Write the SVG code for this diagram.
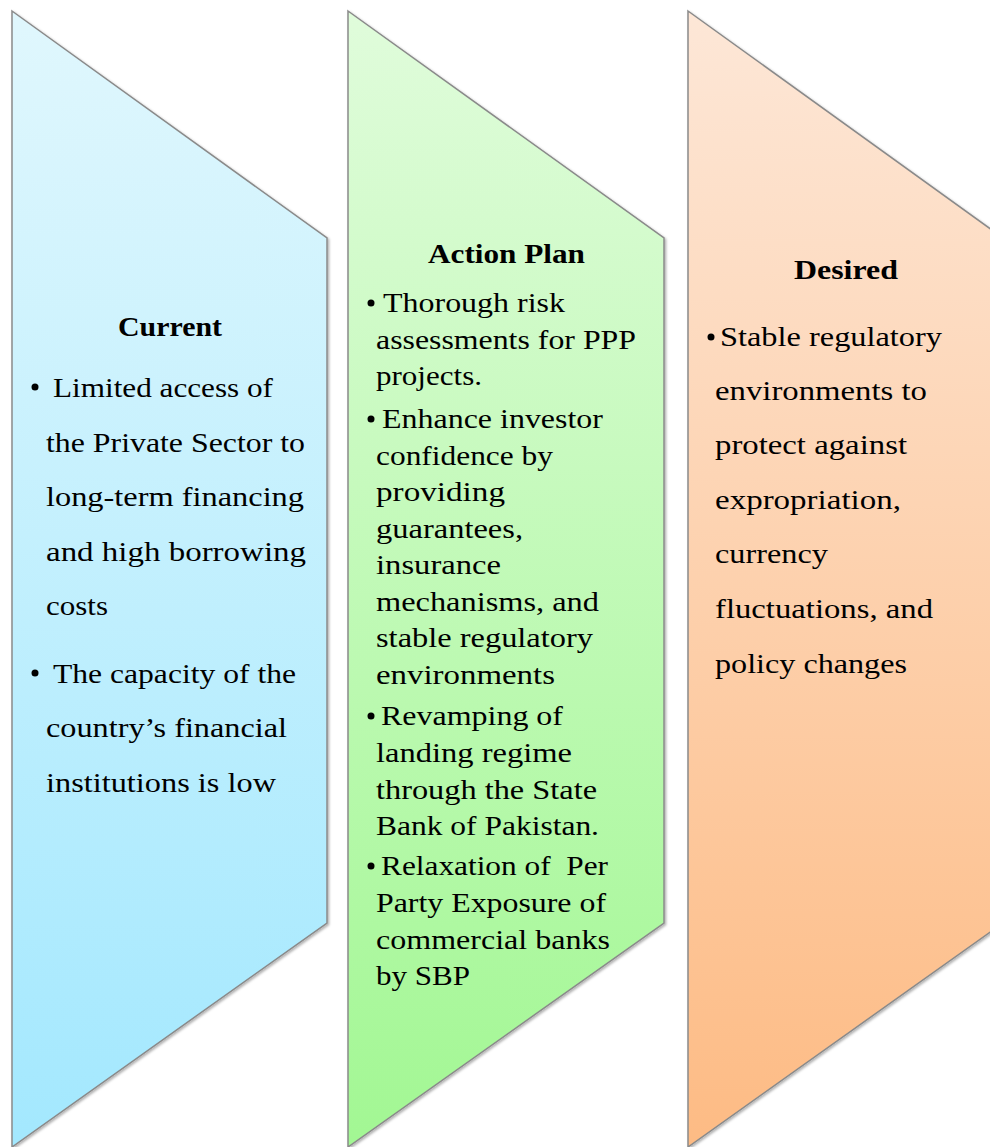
<svg xmlns="http://www.w3.org/2000/svg" width="990" height="1147" viewBox="0 0 990 1147">
<style>
.shape{stroke:#8a8a8a;stroke-width:1.5;filter:url(#sh)}
text{font-family:"Liberation Serif","DejaVu Serif",serif;fill:#000}
.t{font-size:27px;font-weight:bold}
.b{font-size:27px}
</style>
<defs>
<linearGradient id="g1" x1="0" y1="0" x2="0" y2="1"><stop offset="0" stop-color="#e0f7fd"/><stop offset="1" stop-color="#a3e8fe"/></linearGradient>
<linearGradient id="g2" x1="0" y1="0" x2="0" y2="1"><stop offset="0" stop-color="#e0fcdb"/><stop offset="1" stop-color="#a2f793"/></linearGradient>
<linearGradient id="g3" x1="0" y1="0" x2="0" y2="1"><stop offset="0" stop-color="#fde7d7"/><stop offset="1" stop-color="#fdbb84"/></linearGradient>
<filter id="sh" x="-5%" y="-5%" width="110%" height="110%"><feDropShadow dx="1.5" dy="1.5" stdDeviation="1.2" flood-color="#000" flood-opacity="0.3"/></filter>
</defs>
<g id="current">
<polygon class="shape" fill="url(#g1)" points="12,11 327,238 327,923 12,1147"/>
<text class="t" x="118" y="336" textLength="104" lengthAdjust="spacingAndGlyphs">Current</text>
<circle cx="35" cy="387" r="3.5"/>
<text class="b" x="53" y="397" textLength="220" lengthAdjust="spacingAndGlyphs">Limited access of</text>
<text class="b" x="46" y="452" textLength="259" lengthAdjust="spacingAndGlyphs">the Private Sector to</text>
<text class="b" x="46" y="506" textLength="258" lengthAdjust="spacingAndGlyphs">long-term financing</text>
<text class="b" x="46" y="561" textLength="260" lengthAdjust="spacingAndGlyphs">and high borrowing</text>
<text class="b" x="46" y="615" textLength="62" lengthAdjust="spacingAndGlyphs">costs</text>
<circle cx="35" cy="673" r="3.5"/>
<text class="b" x="53" y="683" textLength="243" lengthAdjust="spacingAndGlyphs">The capacity of the</text>
<text class="b" x="46" y="737" textLength="241" lengthAdjust="spacingAndGlyphs">country’s financial</text>
<text class="b" x="46" y="792" textLength="230" lengthAdjust="spacingAndGlyphs">institutions is low</text>
</g>
<g id="action-plan">
<polygon class="shape" fill="url(#g2)" points="348,11 664,238 664,923 348,1147"/>
<text class="t" x="428" y="263" textLength="157" lengthAdjust="spacingAndGlyphs">Action Plan</text>
<circle cx="371" cy="303" r="3.5"/>
<text class="b" x="383" y="312" textLength="182" lengthAdjust="spacingAndGlyphs">Thorough risk</text>
<text class="b" x="376" y="348.5" textLength="260" lengthAdjust="spacingAndGlyphs">assessments for PPP</text>
<text class="b" x="376" y="385" textLength="106" lengthAdjust="spacingAndGlyphs">projects.</text>
<circle cx="371" cy="419" r="3.5"/>
<text class="b" x="382" y="428" textLength="221" lengthAdjust="spacingAndGlyphs">Enhance investor</text>
<text class="b" x="376" y="464.5" textLength="177" lengthAdjust="spacingAndGlyphs">confidence by</text>
<text class="b" x="376" y="501" textLength="129" lengthAdjust="spacingAndGlyphs">providing</text>
<text class="b" x="376" y="537.5" textLength="147" lengthAdjust="spacingAndGlyphs">guarantees,</text>
<text class="b" x="376" y="574" textLength="125" lengthAdjust="spacingAndGlyphs">insurance</text>
<text class="b" x="376" y="610.5" textLength="223" lengthAdjust="spacingAndGlyphs">mechanisms, and</text>
<text class="b" x="376" y="647" textLength="217" lengthAdjust="spacingAndGlyphs">stable regulatory</text>
<text class="b" x="376" y="683.5" textLength="179" lengthAdjust="spacingAndGlyphs">environments</text>
<circle cx="371" cy="716" r="3.5"/>
<text class="b" x="381" y="725" textLength="182" lengthAdjust="spacingAndGlyphs">Revamping of</text>
<text class="b" x="376" y="762" textLength="196" lengthAdjust="spacingAndGlyphs">landing regime</text>
<text class="b" x="376" y="799" textLength="221" lengthAdjust="spacingAndGlyphs">through the State</text>
<text class="b" x="376" y="835" textLength="223" lengthAdjust="spacingAndGlyphs">Bank of Pakistan.</text>
<circle cx="371" cy="866" r="3.5"/>
<text class="b" x="381" y="875" textLength="227" lengthAdjust="spacingAndGlyphs" xml:space="preserve">Relaxation of  Per</text>
<text class="b" x="376" y="912" textLength="230" lengthAdjust="spacingAndGlyphs">Party Exposure of</text>
<text class="b" x="376" y="949" textLength="234" lengthAdjust="spacingAndGlyphs">commercial banks</text>
<text class="b" x="376" y="985" textLength="94" lengthAdjust="spacingAndGlyphs">by SBP</text>
</g>
<g id="desired">
<polygon class="shape" fill="url(#g3)" points="688,11 1003,238 1003,923 688,1147"/>
<text class="t" x="794" y="279" textLength="104" lengthAdjust="spacingAndGlyphs">Desired</text>
<circle cx="711" cy="337" r="3.5"/>
<text class="b" x="720" y="346" textLength="222" lengthAdjust="spacingAndGlyphs">Stable regulatory</text>
<text class="b" x="715" y="400" textLength="212" lengthAdjust="spacingAndGlyphs">environments to</text>
<text class="b" x="715" y="454" textLength="192" lengthAdjust="spacingAndGlyphs">protect against</text>
<text class="b" x="715" y="509" textLength="186" lengthAdjust="spacingAndGlyphs">expropriation,</text>
<text class="b" x="715" y="563" textLength="113" lengthAdjust="spacingAndGlyphs">currency</text>
<text class="b" x="715" y="618" textLength="218" lengthAdjust="spacingAndGlyphs">fluctuations, and</text>
<text class="b" x="715" y="673" textLength="192" lengthAdjust="spacingAndGlyphs">policy changes</text>
</g>
<g id="connectors"/>
</svg>
